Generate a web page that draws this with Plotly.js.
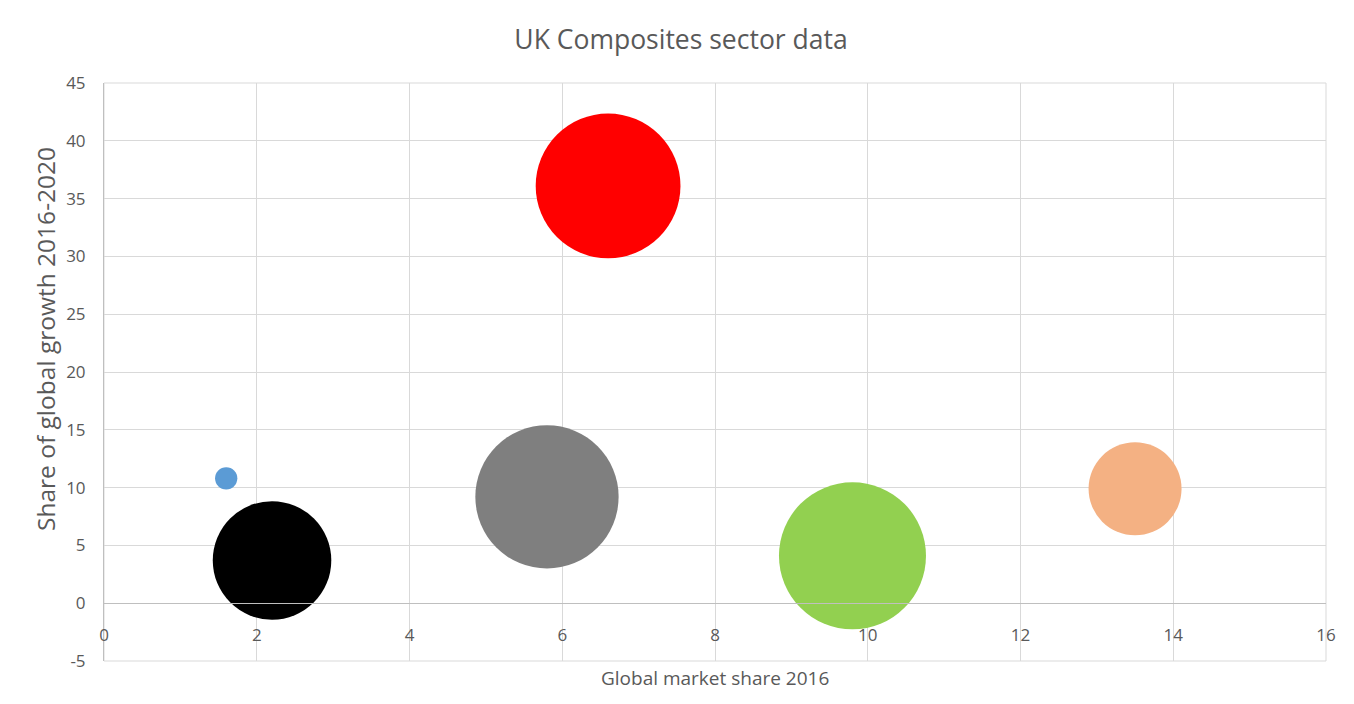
<!DOCTYPE html>
<html>
<head>
<meta charset="utf-8">
<script src="https://cdn.plot.ly/plotly-3.0.1.min.js"></script>
<style>html,body{margin:0;padding:0;background:#fff;}#chart{width:1354px;height:704px;}</style>
</head>
<body>
<div id="chart"></div>
<script>
// Data
const globalMarketShare2016 = [1.6, 2.2, 5.8, 6.6, 9.8, 13.5];
const shareOfGlobalGrowth = [10.8, 3.7, 9.2, 36.1, 4.1, 9.9];
const bubbleSize = [2.3, 65, 95, 97, 100, 40];
const bubbleColors = ['#5B9BD5', '#000000', '#7F7F7F', '#FF0000', '#92D050', '#F4B183'];

const xTickVals = [0, 2, 4, 6, 8, 10, 12, 14, 16];
const xTickText = ['0', '2', '4', '6', '8', '10', '12', '14', '16'];
const yTickVals = [-5, 0, 5, 10, 15, 20, 25, 30, 35, 40, 45];
const yTickText = ['-5', '0', '5', '10', '15', '20', '25', '30', '35', '40', '45'];

const chartTitle = 'UK Composites sector data';
const xTitle = 'Global market share 2016';
const yTitle = 'Share of global growth 2016-2020';

const W = 1354, H = 704;
const margin = {l: 104, r: 28, t: 83, b: 43};
const plotW = W - margin.l - margin.r;
const plotH = H - margin.t - margin.b;
const maxDiameter = 147;

const trace = {
  type: 'scatter',
  mode: 'markers',
  x: globalMarketShare2016,
  y: shareOfGlobalGrowth,
  marker: {
    size: bubbleSize,
    sizemode: 'area',
    sizeref: 2 * Math.max(...bubbleSize) / (maxDiameter * maxDiameter),
    color: bubbleColors,
    opacity: 1,
    line: {width: 0}
  },
  hoverinfo: 'x+y',
  showlegend: false
};

const font = {family: '"Open Sans", sans-serif', color: '#595959'};

const layout = {
  width: W, height: H,
  margin: margin,
  paper_bgcolor: '#ffffff',
  plot_bgcolor: '#ffffff',
  showlegend: false,
  font: font,
  title: {
    text: chartTitle,
    font: {family: font.family, size: 26.5, color: '#595959'},
    x: 681 / W, xref: 'container', xanchor: 'center',
    y: 1 - 40 / H, yref: 'container', yanchor: 'middle'
  },
  xaxis: {
    range: [0, 16],
    tickmode: 'array', tickvals: xTickVals, ticktext: xTickText,
    showgrid: true, gridcolor: '#d9d9d9', gridwidth: 1,
    zeroline: false,
    showline: true, linecolor: '#bfbfbf', linewidth: 1,
    anchor: 'free', position: 0.1,
    ticks: 'outside', ticklen: 16, tickcolor: 'rgba(0,0,0,0)',
    tickfont: {family: font.family, size: 17, color: '#595959'},
    fixedrange: true
  },
  yaxis: {
    range: [-5, 45],
    tickmode: 'array', tickvals: yTickVals, ticktext: yTickText,
    showgrid: true, gridcolor: '#d9d9d9', gridwidth: 1,
    zeroline: false,
    showline: true, linecolor: '#bfbfbf', linewidth: 1,
    ticks: 'outside', ticklen: 14, tickcolor: 'rgba(0,0,0,0)',
    tickfont: {family: font.family, size: 17, color: '#595959'},
    fixedrange: true
  },
  shapes: [
    {
      type: 'rect', xref: 'paper', yref: 'paper',
      x0: 0, x1: 1, y0: 0, y1: 1,
      line: {color: '#d9d9d9', width: 1},
      fillcolor: 'rgba(0,0,0,0)',
      layer: 'below'
    }
  ],
  annotations: [
    {
      text: xTitle, showarrow: false,
      xref: 'paper', yref: 'paper',
      x: 0.5, xanchor: 'center',
      y: -(678 - (H - margin.b)) / plotH, yanchor: 'middle',
      font: {family: font.family, size: 19, color: '#595959'}
    },
    {
      text: yTitle, showarrow: false, textangle: -90,
      xref: 'paper', yref: 'paper',
      x: (45 - margin.l) / plotW, xanchor: 'center',
      y: ((H - margin.b) - 339) / plotH, yanchor: 'middle',
      font: {family: font.family, size: 24.5, color: '#595959'}
    }
  ]
};

Plotly.newPlot('chart', [trace], layout, {displayModeBar: false});
</script>
</body>
</html>
